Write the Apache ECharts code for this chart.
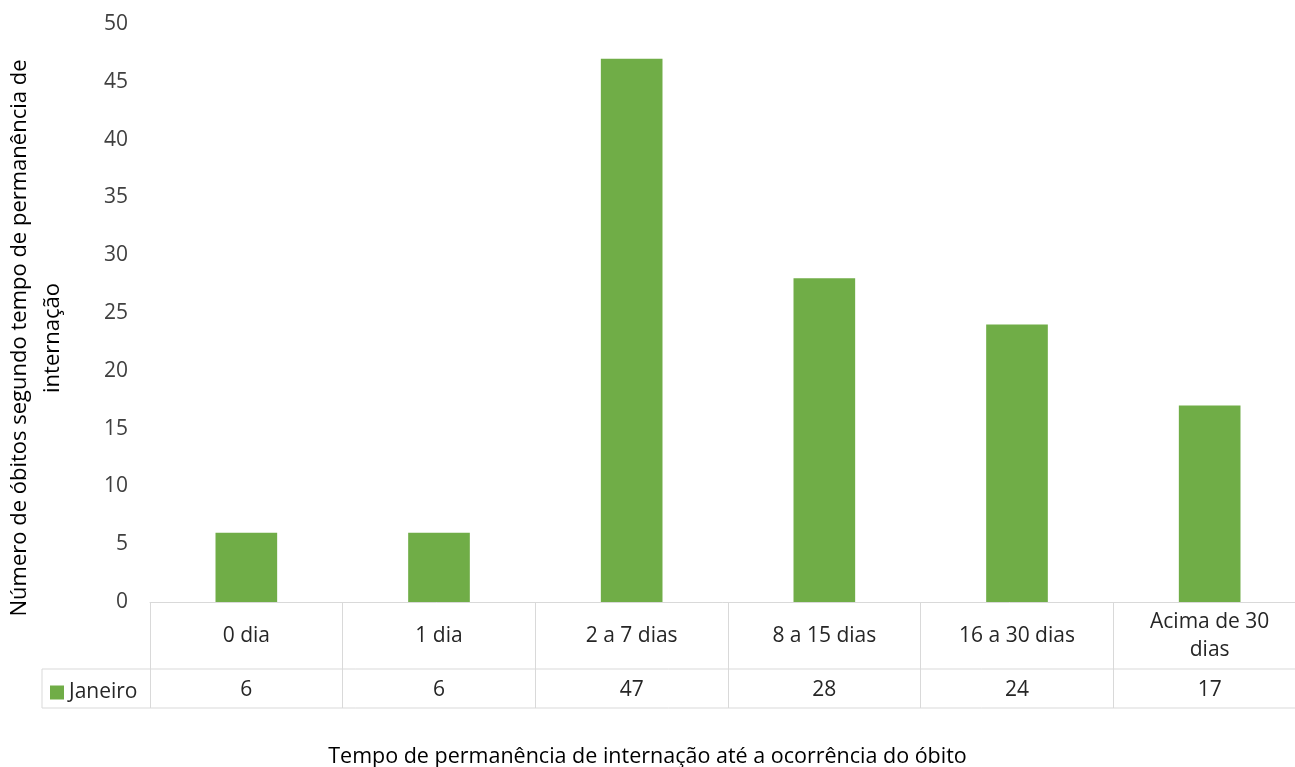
<!DOCTYPE html>
<html>
<head>
<meta charset="utf-8">
<script src="https://cdn.jsdelivr.net/npm/echarts@6/dist/echarts.min.js"></script>
<style>html,body{margin:0;padding:0;background:#fff}#c{width:1295px;height:767px}</style>
</head>
<body>
<div id="c"></div>
<script>
const categories = ['0 dia', '1 dia', '2 a 7 dias', '8 a 15 dias', '16 a 30 dias', 'Acima de 30\ndias'];
const seriesName = 'Janeiro';
const values = [6, 6, 47, 28, 24, 17];
const yTicks = [0, 5, 10, 15, 20, 25, 30, 35, 40, 45, 50];
const yTitle = 'Número de óbitos segundo tempo de permanência de\ninternação';
const xTitle = 'Tempo de permanência de internação até a ocorrência do óbito';

const FONT = 'Open Sans';
const GRIDLINE = '#d9d9d9';
const TXT = '#404040';
const TBL = '#262626';
const FS = 21;
const chart = echarts.init(document.getElementById('c'), null, {renderer: 'canvas'});

const option = {
  animation: false,
  textStyle: {fontFamily: FONT},
  grid: {left: 150, width: 1156, top: 24, bottom: 165, containLabel: false, outerBoundsMode: 'none'},
  legend: {
    data: [seriesName], left: 50, top: 682, icon: 'rect', itemWidth: 14, itemHeight: 14,
    itemGap: 5, padding: 0, textStyle: {fontFamily: FONT, fontSize: FS, color: TBL}
  },
  title: {
    text: xTitle, left: 'center', top: 741,
    textStyle: {fontFamily: FONT, fontSize: 21.5, fontWeight: 'normal', color: '#000'}
  },
  xAxis: [
    {
      type: 'category', data: categories, position: 'bottom',
      axisLine: {show: true, lineStyle: {color: GRIDLINE, width: 1}},
      axisTick: {show: true, length: 106, lineStyle: {color: GRIDLINE, width: 1}},
      axisLabel: {interval: 0, margin: 34, verticalAlign: 'middle', lineHeight: 28, fontSize: FS, color: TBL, fontFamily: FONT},
      splitLine: {show: false}
    },
    {
      type: 'category', data: values.map(String), position: 'bottom',
      axisLine: {show: false}, axisTick: {show: false},
      axisLabel: {interval: 0, margin: 88, verticalAlign: 'middle', fontSize: FS, color: TBL, fontFamily: FONT},
      splitLine: {show: false}
    }
  ],
  yAxis: {
    type: 'value', min: yTicks[0], max: yTicks[yTicks.length - 1], interval: yTicks[1] - yTicks[0],
    axisLine: {show: false}, axisTick: {show: false}, splitLine: {show: false},
    axisLabel: {margin: 22, fontSize: FS, color: TXT, fontFamily: FONT}
  },
  series: [{
    name: seriesName, type: 'bar', data: values, xAxisIndex: 0,
    barWidth: '32%', itemStyle: {color: '#70ad47'}
  }]
};
chart.setOption(option);

// table decoration derived from the axis position
const y0 = chart.convertToPixel({yAxisIndex: 0}, 0);
const xEnd = chart.getWidth();
const row1 = y0 + 67, row2 = y0 + 106;
const lineStyle = {stroke: GRIDLINE, lineWidth: 1};
chart.setOption({
  graphic: [
    {type: 'line', shape: {x1: 42, y1: row1, x2: xEnd, y2: row1}, style: lineStyle, silent: true},
    {type: 'line', shape: {x1: 42, y1: row2, x2: xEnd, y2: row2}, style: lineStyle, silent: true},
    {type: 'line', shape: {x1: 42, y1: row1, x2: 42, y2: row2}, style: lineStyle, silent: true},
    {type: 'text', x: 36, y: 338, rotation: Math.PI / 2, silent: true,
     style: {text: yTitle, fontFamily: FONT, fontSize: 22, lineHeight: 33, fill: '#000', align: 'center', verticalAlign: 'middle'}}
  ]
});
</script>
</body>
</html>
